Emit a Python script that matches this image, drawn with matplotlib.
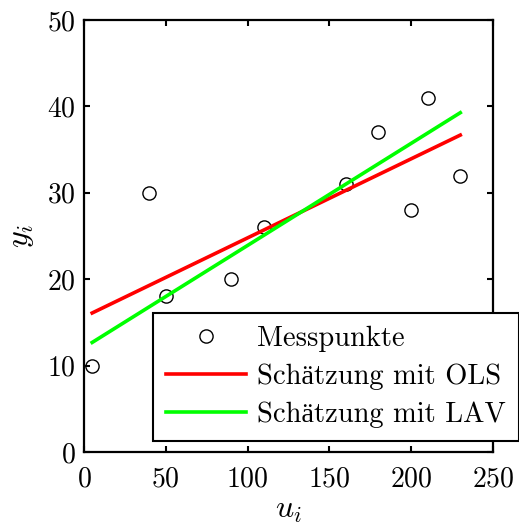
import matplotlib
matplotlib.use("Agg")
import matplotlib.pyplot as plt

# Data
u_points = [5, 40, 50, 90, 110, 160, 180, 200, 210, 230]
y_points = [10, 30, 18, 20, 26, 31, 37, 28, 41, 32]
u_fit = [5, 230]
ols_fit = [16.09, 36.68]
lav_fit = [12.68, 39.27]
x_ticks = [0, 50, 100, 150, 200, 250]
y_ticks = [0, 10, 20, 30, 40, 50]
labels = ["Messpunkte", "Schätzung mit OLS", "Schätzung mit LAV"]

plt.rcParams['font.family'] = ['cmr10', 'Liberation Serif']
plt.rcParams['mathtext.fontset'] = 'cm'
plt.rcParams['axes.formatter.use_mathtext'] = True

fig = plt.figure(figsize=(5.19, 5.28), dpi=100)
ax = fig.add_axes([84/519, 1-452/528, (493-84)/519, (452-20)/528])

ax.plot(u_points, y_points, 'o', mfc='none', mec='black', ms=9.5, mew=1.0, label=labels[0])
ax.plot(u_fit, ols_fit, color='#ff0000', lw=2.6, label=labels[1])
ax.plot(u_fit, lav_fit, color='#00ff00', lw=2.6, label=labels[2])

ax.set_xlim(0, 250)
ax.set_ylim(0, 50)
ax.set_xticks(x_ticks)
ax.set_yticks(y_ticks)
ax.tick_params(direction='in', length=4, width=1.5, top=True, right=True, labelsize=20)
ax.tick_params(axis='x', pad=10)
ax.tick_params(axis='y', pad=6)
for s in ax.spines.values():
    s.set_linewidth(1.6)
ax.set_xlabel(r'$u_i$', fontsize=23, labelpad=4)
ax.set_ylabel(r'$y_i$', fontsize=23, labelpad=8)

leg = ax.legend(loc='upper left', bbox_to_anchor=(153/519, 1-313/528), bbox_transform=fig.transFigure,
                borderaxespad=0, fontsize=20.5, handlelength=2.8, handletextpad=0.4,
                labelspacing=0.4, borderpad=0.45, fancybox=False, framealpha=1, edgecolor='black')
leg.get_frame().set_linewidth(1.5)

fig.savefig('out.png', dpi=100)
